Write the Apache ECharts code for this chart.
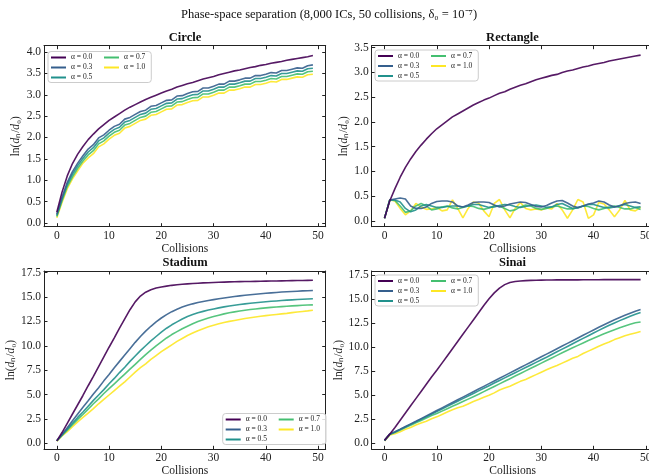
<!DOCTYPE html>
<html><head><meta charset="utf-8">
<script src="https://cdn.jsdelivr.net/npm/echarts@6/dist/echarts.min.js"></script>
<style>html,body{margin:0;padding:0;background:#fff}#c{width:649px;height:474px}</style>
</head><body><div id="c"></div>
<script>
const collisions = [0,1,2,3,4,5,6,7,8,9,10,11,12,13,14,15,16,17,18,19,20,21,22,23,24,25,26,27,28,29,30,31,32,33,34,35,36,37,38,39,40,41,42,43,44,45,46,47,48,49];
const alphaNames = ['α = 0.0','α = 0.3','α = 0.5','α = 0.7','α = 1.0'];
const colors = ['#440154','#355f8d','#21918c','#44bf70','#fde725'];
const xTicks = [0,10,20,30,40,50];

// Circle
const circleA00 = [0.25,0.72,1.10,1.39,1.61,1.79,1.95,2.08,2.20,2.30,2.40,2.48,2.56,2.64,2.71,2.77,2.83,2.89,2.94,2.99,3.04,3.09,3.13,3.18,3.22,3.26,3.29,3.33,3.37,3.40,3.43,3.47,3.50,3.53,3.56,3.58,3.61,3.64,3.66,3.69,3.71,3.74,3.76,3.78,3.81,3.83,3.85,3.87,3.89,3.92];
const circleA03 = [0.20,0.60,0.95,1.20,1.40,1.57,1.73,1.83,1.99,2.06,2.17,2.26,2.31,2.43,2.47,2.54,2.61,2.64,2.73,2.75,2.81,2.87,2.88,2.97,2.98,3.03,3.07,3.08,3.16,3.16,3.20,3.25,3.25,3.32,3.32,3.35,3.39,3.39,3.45,3.45,3.48,3.52,3.51,3.57,3.57,3.60,3.63,3.62,3.68,3.70];
const circleA05 = [0.17,0.56,0.90,1.14,1.34,1.51,1.66,1.76,1.92,1.99,2.10,2.19,2.24,2.36,2.40,2.47,2.54,2.57,2.66,2.68,2.74,2.80,2.81,2.90,2.91,2.96,3.00,3.01,3.09,3.09,3.13,3.18,3.18,3.25,3.25,3.28,3.32,3.32,3.38,3.38,3.41,3.45,3.44,3.50,3.50,3.53,3.56,3.55,3.61,3.62];
const circleA07 = [0.15,0.52,0.85,1.08,1.28,1.45,1.59,1.69,1.85,1.92,2.03,2.12,2.17,2.29,2.33,2.40,2.47,2.50,2.59,2.61,2.67,2.73,2.74,2.83,2.84,2.89,2.93,2.94,3.02,3.02,3.06,3.11,3.11,3.18,3.18,3.21,3.25,3.25,3.31,3.31,3.34,3.38,3.37,3.43,3.43,3.46,3.49,3.48,3.54,3.55];
const circleA10 = [0.12,0.48,0.80,1.03,1.22,1.40,1.52,1.62,1.78,1.85,1.96,2.05,2.10,2.22,2.26,2.33,2.40,2.43,2.52,2.54,2.60,2.66,2.67,2.76,2.77,2.82,2.86,2.87,2.95,2.95,2.99,3.04,3.04,3.11,3.11,3.14,3.18,3.18,3.24,3.24,3.27,3.31,3.30,3.36,3.36,3.39,3.42,3.41,3.47,3.48];

// Rectangle
const rectA00 = [0.05,0.40,0.65,0.88,1.08,1.25,1.40,1.53,1.65,1.76,1.86,1.94,2.02,2.10,2.16,2.22,2.28,2.34,2.39,2.44,2.48,2.53,2.58,2.61,2.66,2.70,2.74,2.77,2.81,2.85,2.88,2.91,2.94,2.96,3.00,3.03,3.05,3.08,3.11,3.13,3.16,3.18,3.20,3.23,3.25,3.27,3.29,3.31,3.33,3.35];
const rectA03 = [0.05,0.42,0.44,0.46,0.44,0.30,0.25,0.25,0.28,0.35,0.39,0.40,0.40,0.38,0.30,0.28,0.32,0.37,0.38,0.38,0.37,0.32,0.28,0.30,0.34,0.36,0.38,0.37,0.33,0.29,0.28,0.31,0.36,0.40,0.41,0.36,0.30,0.27,0.30,0.34,0.36,0.40,0.38,0.32,0.28,0.30,0.35,0.37,0.38,0.35];
const rectA05 = [0.05,0.42,0.42,0.38,0.25,0.18,0.22,0.30,0.33,0.30,0.27,0.27,0.29,0.30,0.30,0.28,0.30,0.33,0.33,0.30,0.27,0.28,0.31,0.33,0.32,0.29,0.27,0.29,0.31,0.32,0.30,0.27,0.28,0.33,0.35,0.30,0.25,0.26,0.30,0.33,0.33,0.30,0.27,0.26,0.28,0.31,0.33,0.30,0.27,0.28];
const rectA07 = [0.05,0.42,0.41,0.30,0.17,0.20,0.30,0.35,0.30,0.22,0.24,0.28,0.30,0.26,0.24,0.27,0.30,0.29,0.25,0.23,0.26,0.30,0.30,0.25,0.20,0.22,0.28,0.32,0.30,0.25,0.23,0.25,0.28,0.30,0.27,0.24,0.24,0.27,0.30,0.29,0.25,0.22,0.25,0.28,0.30,0.27,0.24,0.24,0.27,0.23];
const rectA10 = [0.05,0.42,0.40,0.25,0.12,0.20,0.35,0.28,0.23,0.24,0.27,0.20,0.22,0.42,0.25,0.06,0.25,0.38,0.36,0.20,0.08,0.35,0.43,0.22,0.06,0.25,0.37,0.25,0.22,0.24,0.22,0.26,0.24,0.35,0.22,0.05,0.22,0.43,0.38,0.05,0.12,0.37,0.34,0.22,0.08,0.22,0.41,0.22,0.20,0.27];

// Stadium
const stadA00 = [0.25,1.10,2.05,3.00,3.95,4.90,5.90,6.85,7.85,8.85,9.85,10.80,11.80,12.75,13.70,14.50,15.10,15.50,15.75,15.92,16.03,16.12,16.20,16.26,16.31,16.35,16.39,16.42,16.45,16.47,16.49,16.51,16.53,16.55,16.56,16.58,16.59,16.60,16.61,16.62,16.63,16.64,16.65,16.66,16.67,16.68,16.69,16.70,16.71,16.72];
const stadA03 = [0.25,0.90,1.60,2.30,3.00,3.70,4.35,5.05,5.70,6.40,7.05,7.75,8.40,9.05,9.70,10.35,10.95,11.50,12.00,12.45,12.85,13.20,13.50,13.75,13.97,14.15,14.30,14.43,14.54,14.64,14.73,14.82,14.90,14.98,15.05,15.12,15.18,15.24,15.29,15.34,15.39,15.43,15.47,15.51,15.54,15.57,15.60,15.63,15.65,15.67];
const stadA05 = [0.25,0.85,1.45,2.05,2.65,3.20,3.80,4.40,4.95,5.50,6.10,6.65,7.25,7.80,8.40,8.95,9.50,10.00,10.50,10.95,11.40,11.80,12.15,12.45,12.75,13.00,13.20,13.38,13.53,13.66,13.78,13.89,13.99,14.08,14.16,14.23,14.30,14.36,14.42,14.47,14.52,14.56,14.60,14.64,14.68,14.71,14.74,14.77,14.80,14.83];
const stadA07 = [0.25,0.80,1.35,1.90,2.45,2.95,3.50,4.05,4.55,5.10,5.60,6.10,6.60,7.10,7.60,8.10,8.60,9.10,9.55,10.00,10.40,10.80,11.15,11.45,11.75,12.00,12.25,12.48,12.68,12.85,13.00,13.14,13.27,13.38,13.48,13.57,13.65,13.72,13.78,13.84,13.89,13.94,13.98,14.02,14.06,14.09,14.12,14.15,14.18,14.20];
const stadA10 = [0.20,0.75,1.20,1.70,2.20,2.65,3.10,3.55,4.05,4.50,4.95,5.40,5.85,6.30,6.80,7.30,7.75,8.15,8.60,9.00,9.40,9.75,10.10,10.45,10.75,11.05,11.30,11.55,11.75,11.95,12.10,12.25,12.38,12.50,12.60,12.70,12.79,12.87,12.95,13.02,13.09,13.15,13.21,13.27,13.32,13.40,13.46,13.52,13.58,13.65];

// Sinai
const sinaiA00 = [0.25,0.90,1.60,2.35,3.10,3.85,4.60,5.35,6.10,6.85,7.55,8.30,9.05,9.80,10.55,11.30,12.05,12.80,13.55,14.30,15.00,15.62,16.12,16.48,16.70,16.80,16.86,16.90,16.92,16.94,16.95,16.96,16.96,16.97,16.97,16.98,16.98,16.98,16.99,16.99,16.99,16.99,17.00,17.00,17.00,17.00,17.00,17.00,17.00,17.00];
const sinaiA03 = [0.25,0.90,1.15,1.42,1.70,1.97,2.24,2.52,2.80,3.08,3.36,3.64,3.92,4.20,4.48,4.76,5.04,5.32,5.60,5.88,6.16,6.44,6.72,7.00,7.28,7.56,7.84,8.12,8.40,8.68,8.96,9.24,9.52,9.80,10.08,10.36,10.64,10.92,11.20,11.48,11.76,12.03,12.30,12.56,12.81,13.05,13.28,13.50,13.71,13.90];
const sinaiA05 = [0.25,0.88,1.12,1.38,1.65,1.92,2.18,2.45,2.72,2.98,3.25,3.52,3.79,4.06,4.33,4.60,4.87,5.14,5.41,5.68,5.95,6.22,6.49,6.76,7.03,7.30,7.57,7.84,8.11,8.38,8.65,8.92,9.20,9.48,9.76,10.04,10.32,10.60,10.88,11.16,11.44,11.71,11.98,12.24,12.49,12.73,12.96,13.18,13.39,13.58];
const sinaiA07 = [0.20,0.85,1.08,1.33,1.58,1.83,2.08,2.33,2.58,2.83,3.05,3.30,3.55,3.80,4.05,4.30,4.55,4.80,5.05,5.33,5.60,5.87,6.14,6.41,6.68,6.95,7.22,7.49,7.76,8.03,8.30,8.57,8.84,9.11,9.38,9.64,9.90,10.15,10.40,10.65,10.90,11.13,11.36,11.58,11.79,11.99,12.18,12.35,12.50,12.58];
const sinaiA10 = [0.20,0.80,0.95,1.15,1.40,1.60,1.85,2.05,2.25,2.50,2.70,2.95,3.20,3.45,3.65,3.80,4.05,4.30,4.50,4.75,4.95,5.20,5.50,5.70,5.90,6.15,6.40,6.60,6.85,7.10,7.35,7.60,7.85,8.05,8.30,8.55,8.80,9.00,9.30,9.55,9.80,10.05,10.30,10.50,10.75,10.95,11.15,11.30,11.45,11.60];

const panelTitles = ['Circle','Rectangle','Stadium','Sinai'];
const panelData = [
  [circleA00,circleA03,circleA05,circleA07,circleA10],
  [rectA00,rectA03,rectA05,rectA07,rectA10],
  [stadA00,stadA03,stadA05,stadA07,stadA10],
  [sinaiA00,sinaiA03,sinaiA05,sinaiA07,sinaiA10]
];
const yTicks = [
  [0,0.5,1.0,1.5,2.0,2.5,3.0,3.5,4.0],
  [0,0.5,1.0,1.5,2.0,2.5,3.0,3.5],
  [0,2.5,5.0,7.5,10.0,12.5,15.0,17.5],
  [0,2.5,5.0,7.5,10.0,12.5,15.0,17.5]
];

const FONT = 'Liberation Serif';
const layout = [
  {left:44, top:45.7, width:281.7, height:181, ymin:-0.09, ymax:4.15, title:[185,31.5], legend:[48,51.5]},
  {left:371.7, top:45.7, width:281.7, height:181, ymin:-0.12, ymax:3.54, title:[512.5,31.5], legend:[375,50]},
  {left:44, top:271, width:281.7, height:178.3, ymin:-0.62, ymax:17.67, title:[185,256.5], legend:[222.7,413.5]},
  {left:371.7, top:271, width:281.7, height:178.3, ymin:-0.68, ymax:17.9, title:[512.5,256.5], legend:[375,275]}
];

const grids=[], xAxes=[], yAxes=[], series=[], titles=[], legends=[];
titles.push({text:'Phase-space separation (8,000 ICs, 50 collisions, δ₀ = 10⁻⁷)', left:329, top:8, textAlign:'center', padding:0,
  textStyle:{fontFamily:FONT, fontSize:12.5, fontWeight:'normal', color:'#111'}});
const axisLineStyle = {color:'#222', width:1};
layout.forEach((L,p)=>{
  grids.push({left:L.left, top:L.top, width:L.width, height:L.height, outerBoundsMode:'none', containLabel:false});
  titles.push({text:panelTitles[p], left:L.title[0], top:L.title[1], textAlign:'center', padding:0,
    textStyle:{fontFamily:FONT, fontSize:12.5, fontWeight:'bold', color:'#111'}});
  const xb = {type:'value', gridIndex:p, min:-2.45, max:51.45, splitLine:{show:false},
    axisLine:{show:true, onZero:false, lineStyle:axisLineStyle},
    axisTick:{show:true, inside:true, length:3.5, customValues:xTicks, lineStyle:axisLineStyle}};
  xAxes.push(Object.assign({}, xb, {position:'bottom', name:'Collisions', nameLocation:'middle', nameGap:14,
    nameTextStyle:{fontFamily:FONT, fontSize:11.5, color:'#222'},
    axisLabel:{show:true, customValues:xTicks, margin:3, fontFamily:FONT, fontSize:11.5, color:'#222'}}));
  xAxes.push(Object.assign({}, xb, {position:'top', axisLabel:{show:false}}));
  const yb = {type:'value', gridIndex:p, min:L.ymin, max:L.ymax, splitLine:{show:false},
    axisLine:{show:true, onZero:false, lineStyle:axisLineStyle},
    axisTick:{show:true, inside:true, length:3.5, customValues:yTicks[p], lineStyle:axisLineStyle}};
  yAxes.push(Object.assign({}, yb, {position:'left', name:'{a|ln(}{b|d}{a|ₙ/}{b|d}{a|₀)}', nameLocation:'middle', nameGap:22,
    nameTextStyle:{fontFamily:FONT, fontSize:11.5, color:'#222', rich:{a:{fontFamily:FONT,fontSize:11.5,color:'#222'}, b:{fontFamily:FONT,fontSize:11.5,fontStyle:'italic',color:'#222'}}},
    axisLabel:{show:true, customValues:yTicks[p], margin:3, fontFamily:FONT, fontSize:11.5, color:'#222',
      formatter:(v)=> v.toFixed(1)}}));
  yAxes.push(Object.assign({}, yb, {position:'right', axisLabel:{show:false}}));
  panelData[p].forEach((vals,j)=>{
    series.push({type:'line', name:alphaNames[j], xAxisIndex:2*p, yAxisIndex:2*p,
      data: collisions.map((c,i)=>[c, vals[i]]), showSymbol:false, symbol:'none', z: 10-j,
      lineStyle:{width:1.6, color:colors[j], opacity:0.9}, itemStyle:{color:colors[j]}, emphasis:{disabled:true}});
  });
  legends.push({left:L.legend[0], top:L.legend[1], orient:'vertical', height:30, itemGap:2, itemWidth:15, itemHeight:2,
    icon:'rect', padding:[2,6,1,3], backgroundColor:'rgba(255,255,255,0.85)', borderColor:'#cccccc', borderWidth:1, borderRadius:3,
    selectedMode:false,
    textStyle:{fontFamily:FONT, fontSize:7.5, lineHeight:8, color:'#222'},
    data: alphaNames.map((n,i)=> i<3 ? {name:n, textStyle:{width:31}} : {name:n})});
});

const chart = echarts.init(document.getElementById('c'), null, {renderer:'canvas'});
chart.setOption({animation:false, backgroundColor:'#fff', title:titles, grid:grids, xAxis:xAxes, yAxis:yAxes, legend:legends, series:series});
</script></body></html>
